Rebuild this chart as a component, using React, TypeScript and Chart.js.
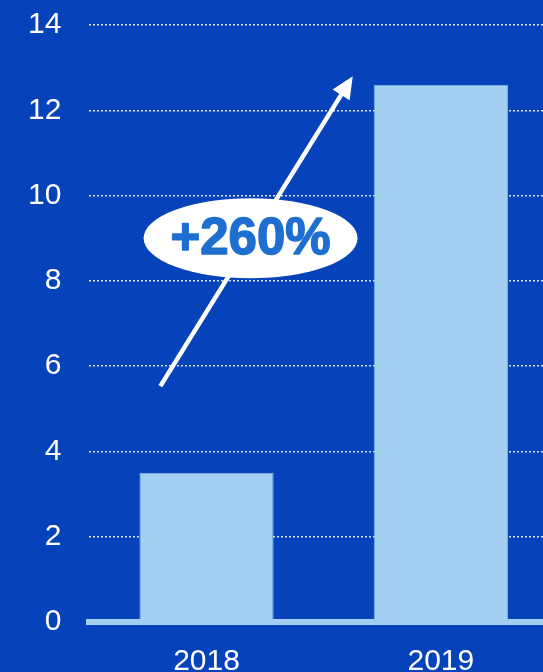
import React, { useEffect, useRef } from "react";
import { Chart, registerables } from "chart.js";

Chart.register(...registerables);

const categories = ["2018", "2019"];
const values = [3.5, 12.6];
const yTicks = [0, 2, 4, 6, 8, 10, 12, 14];
const growthLabel = "+260%";
// annotation positions in data space: [categoryIndex, value]
const arrowStart = [-0.197, 5.53];
const arrowEnd = [0.624, 12.8];
const badgeCenter = [0.188, 9.0];

const BG = "#0642b9";
const BAR = "#a3d0f0";

const overlayPlugin = {
  id: "overlay",
  afterDatasetsDraw(chart: any) {
    const { ctx, scales } = chart;
    const x = scales.x;
    const y = scales.y;
    const sx = x.getPixelForValue(arrowStart[0]);
    const sy = y.getPixelForValue(arrowStart[1]);
    const ex = x.getPixelForValue(arrowEnd[0]);
    const ey = y.getPixelForValue(arrowEnd[1]);
    const ang = Math.atan2(ey - sy, ex - sx);
    const headLen = 22;
    const headW = 10;
    ctx.save();
    ctx.strokeStyle = "#ffffff";
    ctx.fillStyle = "#ffffff";
    ctx.lineWidth = 4.5;
    ctx.beginPath();
    ctx.moveTo(sx, sy);
    ctx.lineTo(ex - Math.cos(ang) * headLen * 0.8, ey - Math.sin(ang) * headLen * 0.8);
    ctx.stroke();
    const bx = ex - Math.cos(ang) * headLen;
    const by = ey - Math.sin(ang) * headLen;
    ctx.beginPath();
    ctx.moveTo(ex, ey);
    ctx.lineTo(bx + Math.cos(ang + Math.PI / 2) * headW, by + Math.sin(ang + Math.PI / 2) * headW);
    ctx.lineTo(bx - Math.cos(ang + Math.PI / 2) * headW, by - Math.sin(ang + Math.PI / 2) * headW);
    ctx.closePath();
    ctx.fill();

    const cx = x.getPixelForValue(badgeCenter[0]);
    const cy = y.getPixelForValue(badgeCenter[1]);
    ctx.beginPath();
    ctx.ellipse(cx, cy, 107, 40, 0, 0, Math.PI * 2);
    ctx.fill();
    ctx.fillStyle = "#1f6fd1";
    ctx.strokeStyle = "#1f6fd1";
    ctx.lineWidth = 1.5;
    ctx.lineJoin = "round";
    ctx.font = "bold 51px 'Liberation Sans', Arial, sans-serif";
    ctx.textAlign = "center";
    ctx.textBaseline = "middle";
    ctx.fillText(growthLabel, cx, cy + 2);
    ctx.strokeText(growthLabel, cx, cy + 2);
    ctx.restore();
  },
};

const bgPlugin = {
  id: "bg",
  beforeDraw(chart: any) {
    const { ctx, width, height } = chart;
    ctx.save();
    ctx.fillStyle = BG;
    ctx.fillRect(0, 0, width, height);
    ctx.restore();
  },
};

export default function App() {
  const ref = useRef<HTMLCanvasElement | null>(null);
  useEffect(() => {
    document.body.style.margin = "0";
    document.body.style.background = BG;
    const c = ref.current;
    if (!c) return;
    const chart = new Chart(c, {
      type: "bar",
      data: {
        labels: categories,
        datasets: [
          {
            data: values,
            backgroundColor: BAR,
            borderColor: "#7fb4e6",
            borderWidth: 1,
            barPercentage: 0.573,
            categoryPercentage: 1,
          },
        ],
      },
      options: {
        responsive: false,
        animation: false,
        layout: { padding: { left: 0, top: 3, right: 0, bottom: 0 } },
        plugins: { legend: { display: false }, tooltip: { enabled: false } },
        scales: {
          x: {
            grid: { display: false, drawTicks: false },
            border: { display: true, color: BAR, width: 6 },
            ticks: {
              color: "#ffffff",
              padding: 22,
              font: { family: "'Liberation Sans', Arial, sans-serif", size: 30, lineHeight: 1.2 },
            },
          },
          y: {
            min: 0,
            max: 14,
            afterBuildTicks(scale: any) {
              scale.ticks = yTicks.map((v) => ({ value: v }));
            },
            grid: {
              color: "rgba(255,255,255,0.85)",
              lineWidth: 1.5,
              drawTicks: false,
            },
            border: { display: false, dash: [2, 2] },
            ticks: {
              color: "#ffffff",
              padding: 28,
              font: { family: "'Liberation Sans', Arial, sans-serif", size: 30 },
            },
          },
        },
      },
      plugins: [bgPlugin, overlayPlugin],
    });
    return () => chart.destroy();
  }, []);
  return (
    <div style={{ width: 543, height: 672, overflow: "hidden", background: BG }}>
      <canvas
        ref={ref}
        width={558}
        height={723}
        style={{ width: 558, height: 723, display: "block", marginTop: -21 }}
      />
    </div>
  );
}
